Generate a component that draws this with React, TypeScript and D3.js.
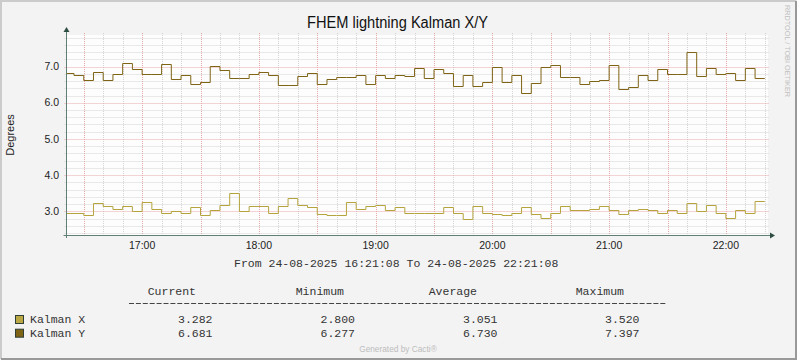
import * as d3 from "d3";

// 5-minute RRD steps, first one covers 16:20-16:25, last 22:15-22:20
const kalmanX = [
  2.97, 2.97, 2.9, 3.22, 3.15, 3.08, 3.15, 3.0, 3.25, 3.08, 2.95, 3.0, 2.97, 3.11, 2.9, 3.05, 3.17, 3.52,
  3.0, 3.16, 3.14, 2.95, 3.14, 3.36, 3.19, 3.11, 2.92, 2.89, 2.89, 3.25, 3.08, 3.14, 3.19, 3.03, 3.11, 2.97,
  2.95, 2.97, 2.97, 3.11, 2.97, 2.8, 3.14, 2.95, 2.92, 2.89, 2.97, 3.11, 2.92, 2.81, 2.97, 3.16, 3.05, 3.05,
  3.08, 3.16, 3.03, 2.92, 3.03, 3.08, 3.05, 2.95, 3.05, 2.97, 3.22, 3.0, 3.19, 2.97, 2.81, 3.05, 2.97, 3.28,
];
const kalmanY = [
  6.82, 6.77, 6.63, 6.84, 6.63, 6.8, 7.09, 6.94, 6.8, 6.8, 7.06, 6.65, 6.76, 6.52, 6.57, 7.01, 6.9, 6.68,
  6.68, 6.8, 6.84, 6.77, 6.5, 6.5, 6.74, 6.82, 6.52, 6.65, 6.71, 6.71, 6.76, 6.52, 6.76, 6.68, 6.76, 6.73,
  6.95, 6.68, 6.93, 6.82, 6.46, 6.76, 6.46, 6.57, 6.98, 6.57, 6.76, 6.28, 6.54, 6.98, 7.04, 6.71, 6.71, 6.51,
  6.6, 6.62, 7.04, 6.38, 6.43, 6.76, 6.62, 6.93, 6.8, 6.8, 7.4, 6.73, 6.95, 6.79, 6.82, 6.62, 6.95, 6.68,
];
const yTicks = [3, 4, 5, 6, 7];
const legendHeaders = ["Current", "Minimum", "Average", "Maximum"];
const legendRows = [
  { name: "Kalman X", color: "#B9A843", values: ["3.282", "2.800", "3.051", "3.520"] },
  { name: "Kalman Y", color: "#7F6416", values: ["6.681", "6.277", "6.730", "7.397"] },
];

/** svg dimensions */
const width = 797;
const height = 360;
const plot = { left: 66.5, right: 767, top: 35, bottom: 235 };

const start = new Date(Date.UTC(2025, 7, 24, 16, 21, 8));
const end = new Date(Date.UTC(2025, 7, 24, 22, 21, 8));
const firstStep = Date.UTC(2025, 7, 24, 16, 20, 0);
const stepMs = 5 * 60 * 1000;

const mono = "'Liberation Mono', 'Courier New', monospace";
const sans = "'Liberation Sans', Arial, sans-serif";

const App = () => {
  const x = d3.scaleUtc().domain([start, end]).range([plot.left, plot.right]);
  const y = d3.scaleLinear().domain([2.35, 7.87]).range([plot.bottom, plot.top]);

  const toPoints = (vals: number[]) => {
    const pts = vals.map((v, i) => ({ t: new Date(firstStep + i * stepMs), v }));
    pts.push({ t: new Date(firstStep + vals.length * stepMs), v: vals[vals.length - 1] });
    return pts;
  };
  const line = d3
    .line<{ t: Date; v: number }>()
    .x((d) => x(d.t))
    .y((d) => Math.round(y(d.v)) + 0.5)
    .curve(d3.curveStepAfter);

  const minorY = d3.range(12, 40).map((i) => i / 5).filter((v) => v % 1 !== 0);
  const minorX = x.ticks(d3.utcMinute.every(10)!).filter((d) => d.getUTCMinutes() % 30 !== 0);
  const majorX = x.ticks(d3.utcMinute.every(30)!);
  const hourX = x.ticks(d3.utcHour.every(1)!);
  const fmt = d3.utcFormat("%H:%M");

  const px = (v: number) => Math.round(v) + 0.5;
  const legendX = [196, 344, 477, 624];
  const valueX = [212.5, 355, 497.5, 639.5];

  return (
    <svg width={width} height={height} style={{ display: "block", position: "absolute", left: 0, top: 0 }}>
      <rect x={0} y={0} width={width} height={height} fill="#F3F3F3" />
      {/* 3d frame */}
      <path d={`M1,${height - 1} V1 H${width - 1}`} fill="none" stroke="#CBCBCB" strokeWidth={2} />
      <path d={`M1,${height - 1} H${width - 1} V1`} fill="none" stroke="#999999" strokeWidth={2} />

      <rect x={plot.left} y={plot.top} width={plot.right - plot.left + 1} height={plot.bottom - plot.top} fill="#FDFDFD" />

      {/* minor grid */}
      {minorY.map((v) => (
        <line key={`my${v}`} x1={plot.left - 2} x2={plot.right + 2} y1={px(y(v))} y2={px(y(v))}
          stroke="#D4D4D4" strokeDasharray="1,1" />
      ))}
      {minorX.map((d) => (
        <line key={`mx${+d}`} x1={px(x(d))} x2={px(x(d))} y1={plot.top - 2} y2={plot.bottom + 2}
          stroke="#D4D4D4" strokeDasharray="1,1" />
      ))}
      {/* major grid */}
      {yTicks.map((v) => (
        <line key={`Y${v}`} x1={plot.left - 2} x2={plot.right + 2} y1={px(y(v))} y2={px(y(v))}
          stroke="#E8A8A8" strokeDasharray="1,1" />
      ))}
      {majorX.map((d) => (
        <line key={`X${+d}`} x1={px(x(d))} x2={px(x(d))} y1={plot.top - 2} y2={plot.bottom + 2}
          stroke="#E8A8A8" strokeDasharray="1,1" />
      ))}

      <defs>
        <clipPath id="plotClip">
          <rect x={plot.left} y={plot.top - 5} width={plot.right - plot.left} height={plot.bottom - plot.top + 5} />
        </clipPath>
      </defs>
      <g clipPath="url(#plotClip)" fill="none" strokeWidth={1}>
        <path d={line(toPoints(kalmanX)) ?? ""} stroke="#B5A43E" />
        <path d={line(toPoints(kalmanY)) ?? ""} stroke="#7F6416" />
      </g>

      {/* axes with arrows */}
      <line x1={plot.left - 3} x2={plot.right + 3} y1={plot.bottom + 0.5} y2={plot.bottom + 0.5} stroke="#5F7F75" />
      <path d={`M${plot.right + 3},${plot.bottom - 2.5} L${plot.right + 8},${plot.bottom + 0.5} L${plot.right + 3},${plot.bottom + 3.5} Z`} fill="#2E4E44" />
      <line x1={66.5} x2={66.5} y1={plot.bottom + 3} y2={plot.top - 3} stroke="#5F7F75" />
      <path d={`M63.5,${plot.top - 3} L66.5,${plot.top - 8} L69.5,${plot.top - 3} Z`} fill="#2E4E44" />

      {/* tick labels */}
      {yTicks.map((v) => (
        <text key={`yl${v}`} x={59} y={y(v)} dy="0.35em" textAnchor="end" fontFamily={sans} fontSize={10.5} fill="#222">
          {v.toFixed(1)}
        </text>
      ))}
      {hourX.map((d) => (
        <text key={`xl${+d}`} x={x(d)} y={249} textAnchor="middle" fontFamily={sans} fontSize={10.5} fill="#222">
          {fmt(d)}
        </text>
      ))}

      <text x={0} y={0} transform="translate(14,135) rotate(-90)" textAnchor="middle" fontFamily={sans} fontSize={11} fill="#222">
        Degrees
      </text>
      <text x={397.5} y={28} textAnchor="middle" fontFamily={sans} fontSize={16} textLength={181} lengthAdjust="spacingAndGlyphs" fill="#111">
        FHEM lightning Kalman X/Y
      </text>
      <text x={234} y={266.5} fontFamily={mono} fontSize={11.5} fill="#333">
        From 24-08-2025 16:21:08 To 24-08-2025 22:21:08
      </text>

      {/* legend */}
      {legendHeaders.map((h, i) => (
        <text key={h} x={legendX[i]} y={295} textAnchor="end" fontFamily={mono} fontSize={11.5} fill="#333">
          {h}
        </text>
      ))}
      {/* dashed rule under the legend header */}
      <line x1={129} x2={666} y1={303.5} y2={303.5} stroke="#444" strokeDasharray="5,1.9" />
      {legendRows.map((r, ri) => (
        <g key={r.name}>
          <rect x={15.5} y={315.5 + ri * 13.7} width={8} height={8} fill={r.color} stroke="#2F3F35" />
          <text x={30} y={323 + ri * 13.7} fontFamily={mono} fontSize={11.5} fill="#333">
            {r.name}
          </text>
          {r.values.map((v, i) => (
            <text key={i} x={valueX[i]} y={323 + ri * 13.7} textAnchor="end" fontFamily={mono} fontSize={11.5} fill="#333">
              {v}
            </text>
          ))}
        </g>
      ))}

      <text x={398} y={352} textAnchor="middle" fontFamily={sans} fontSize={8.3} fill="#BDBDBD">
        Generated by Cacti®
      </text>
      <text x={0} y={0} transform="translate(785,5) rotate(90)" fontFamily={sans} fontSize={7.5} fill="#C0C0C0" textLength={92} lengthAdjust="spacingAndGlyphs">
        RRDTOOL / TOBI OETIKER
      </text>
    </svg>
  );
};

export default App;
